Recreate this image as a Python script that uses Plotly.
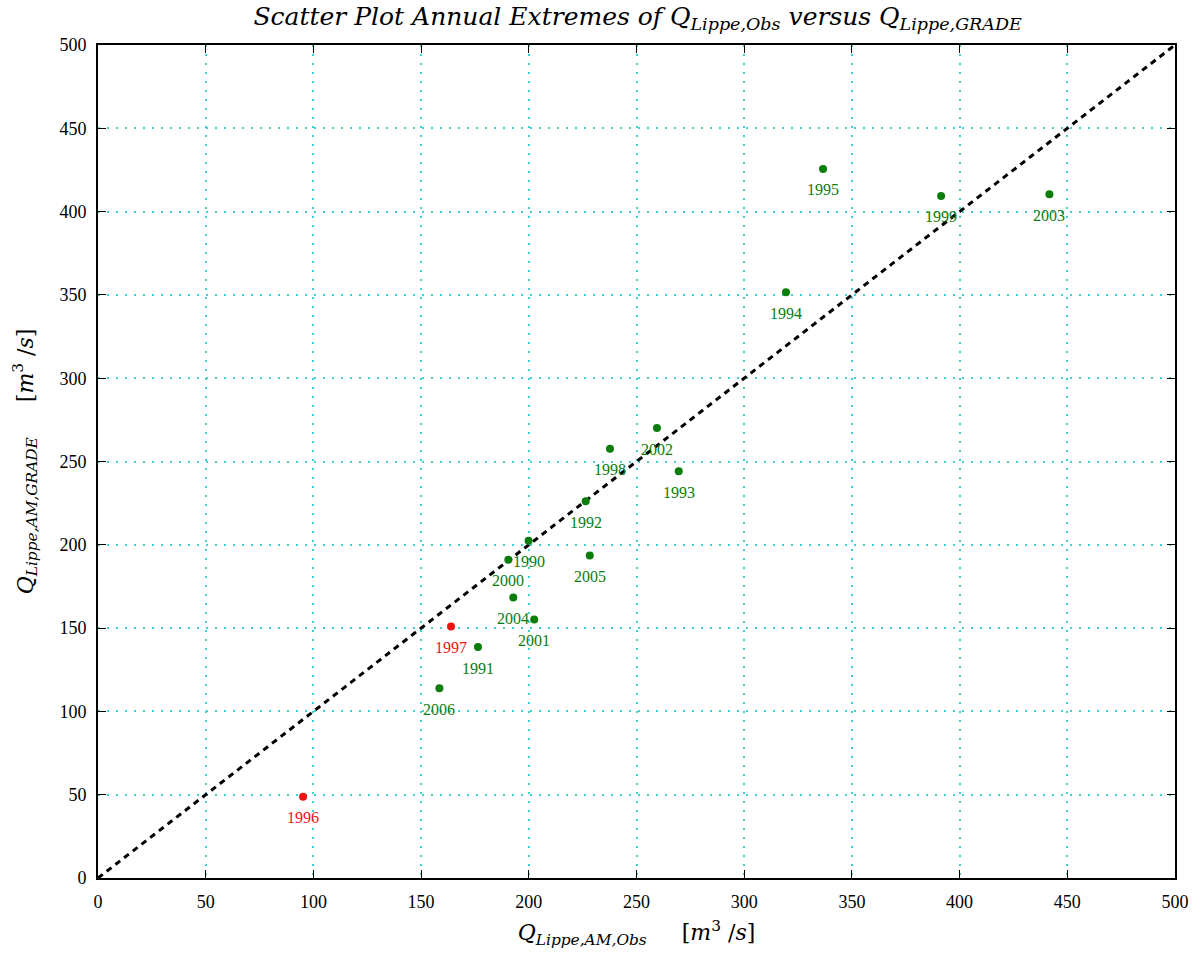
import plotly.graph_objects as go

years = ["1990", "1991", "1992", "1993", "1994", "1995", "1996", "1997", "1998", "1999",
         "2000", "2001", "2002", "2003", "2004", "2005", "2006"]
q_obs = [199.9, 176.4, 226.4, 269.6, 319.4, 336.6, 95.2, 163.9, 237.7, 391.4,
         190.5, 202.5, 259.5, 441.7, 192.8, 228.3, 158.5]
q_grade = [202.5, 138.6, 226.1, 244.1, 351.6, 425.6, 48.8, 151.0, 257.7, 409.4,
           191.1, 155.2, 270.1, 410.4, 168.4, 193.6, 113.9]
flag_red = ["1996", "1997"]
diag = [0, 500]
ticks = [0, 50, 100, 150, 200, 250, 300, 350, 400, 450, 500]

GREEN = "#0a7d0a"
RED = "#ee1111"
colors = [RED if y in flag_red else GREEN for y in years]
FONT = "Liberation Serif"
TFONT = "DejaVu Serif"

fig = go.Figure()
fig.add_trace(go.Scatter(x=diag, y=diag, mode="lines",
                         line=dict(color="black", width=3, dash="6px,5px"),
                         hoverinfo="skip", showlegend=False))
fig.add_trace(go.Scatter(x=q_obs, y=q_grade, mode="markers",
                         marker=dict(color=colors, size=8, line=dict(width=0)),
                         showlegend=False))
for yr, xo, yg, c in zip(years, q_obs, q_grade, colors):
    fig.add_annotation(x=xo, y=yg, text=yr, showarrow=False, yshift=-21,
                       font=dict(family=FONT, size=16, color=c))

axis_common = dict(range=[0, 500], tickvals=ticks, ticks="inside", ticklen=8,
                   tickcolor="black", tickwidth=1, showline=True, linecolor="black",
                   linewidth=2, mirror="ticks", showgrid=True, gridcolor="#40d0d0",
                   griddash="2px,7px", gridwidth=1.5, zeroline=False,
                   ticklabelstandoff=6,
                   tickfont=dict(family=FONT, size=18, color="black"))

fig.update_layout(
    width=1203, height=956,
    margin=dict(l=98, r=28, t=45, b=78),
    paper_bgcolor="white", plot_bgcolor="white",
    title=dict(text="<i>Scatter Plot Annual Extremes of Q<sub>Lippe,Obs</sub> versus Q<sub>Lippe,GRADE</sub></i>",
               x=0.53, xanchor="center", y=0.992, yanchor="top",
               font=dict(family=TFONT, size=25, color="black")),
    xaxis=dict(**axis_common,
               title=dict(text="<i>Q<sub>Lippe,AM,Obs</sub></i>     [<i>m</i><sup>3</sup> /<i>s</i>]",
                          font=dict(family=TFONT, size=22, color="black"), standoff=14)),
    yaxis=dict(**axis_common,
               title=dict(text="<i>Q<sub>Lippe,AM,GRADE</sub></i>     [<i>m</i><sup>3</sup> /<i>s</i>]",
                          font=dict(family=TFONT, size=22, color="black"), standoff=20)),
)

fig.write_html("out.html")
